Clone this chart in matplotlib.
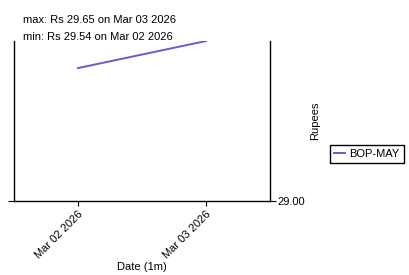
import numpy as np
import pandas as pd
import matplotlib
matplotlib.use("Agg")
import matplotlib.pyplot as plt
import matplotlib.dates as mdates

plt.rcParams['font.family'] = ['Liberation Sans', 'DejaVu Sans']

# data
dates = pd.to_datetime(["2026-03-02", "2026-03-03"])
prices = [29.54, 29.65]
series_name = "BOP-MAY"
max_text = "max: Rs 29.65 on Mar 03 2026"
min_text = "min: Rs 29.54 on Mar 02 2026"

fs = 8

fig = plt.figure(figsize=(4.09, 2.75), dpi=100)
ax = fig.add_axes([14/409, 1 - 201/275, 256/409, 160/275])

ax.plot(dates, prices, color='#6a5acd', linewidth=1.4, label=series_name)

ax.set_xlim(dates[0] - pd.Timedelta(hours=12), dates[-1] + pd.Timedelta(hours=12))
ax.set_ylim(29.0, max(prices))

ax.xaxis.set_major_locator(mdates.DayLocator())
ax.xaxis.set_major_formatter(mdates.DateFormatter('%b %d %Y'))
ax.set_yticks([29.0])
ax.yaxis.set_major_formatter(plt.FormatStrFormatter('%.2f'))

ax.spines['top'].set_visible(False)
for s in ['left', 'right', 'bottom']:
    ax.spines[s].set_linewidth(1.0)

ax.yaxis.tick_right()
ax.tick_params(axis='y', left=True, right=True, labelleft=False, labelright=True,
               direction='out', length=4, pad=1, labelsize=fs)
ax.tick_params(axis='x', direction='out', length=3.5, pad=2, labelsize=fs)
ax.yaxis.set_label_position('right')
ax.set_ylabel('Rupees', fontsize=fs)
ax.yaxis.set_label_coords((310 - 14) / 256, 0.5)
ax.set_xlabel('Date (1m)', fontsize=fs)
ax.xaxis.set_label_coords((142 - 14) / 256, -(262 - 201) / 160)

for lbl in ax.get_xticklabels():
    lbl.set_rotation(45)
    lbl.set_ha('right')
    lbl.set_rotation_mode('anchor')

fig.text(23/409, 1 - 20/275, max_text, fontsize=fs, va='center', ha='left')
fig.text(23/409, 1 - 37/275, min_text, fontsize=fs, va='center', ha='left')

ax.legend(loc='center left', bbox_to_anchor=((330 - 14) / 256, (201 - 154) / 160),
          fontsize=fs, frameon=True, fancybox=False, edgecolor='black', framealpha=1,
          handlelength=1.0, handletextpad=0.4, borderpad=0.35, borderaxespad=0)

fig.savefig('out.png', dpi=100)
